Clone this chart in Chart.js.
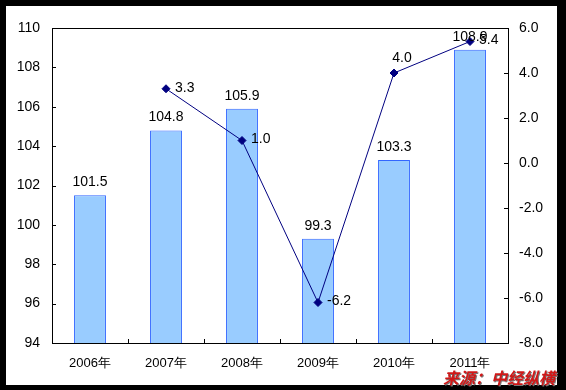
<!DOCTYPE html>
<html>
<head>
<meta charset="utf-8">
<script src="https://cdn.jsdelivr.net/npm/chart.js@4.4.1/dist/chart.umd.min.js"></script>
<style>
  html, body { margin: 0; padding: 0; background: #000; }
  body { width: 566px; height: 390px; position: relative; overflow: hidden; }
  #frame { position: absolute; left: 6px; top: 6px; width: 551px; height: 379px; background: #fff; }
  #source {
    position: absolute; left: 443px; top: 365px;
    font-family: "Noto Sans CJK SC", sans-serif; font-weight: bold; font-style: italic;
    font-size: 16px; color: #d01818; text-shadow: 1px 1px 0 #777; white-space: nowrap;
  }
</style>
</head>
<body>
<div id="frame"><canvas id="chart" width="551" height="379"></canvas></div>
<div id="source">来源：中经纵横</div>
<script>
const years = ['2006年', '2007年', '2008年', '2009年', '2010年', '2011年'];
const indexValues = [101.5, 104.8, 105.9, 99.3, 103.3, 108.9];
const growthValues = [null, 3.3, 1.0, -6.2, 4.0, 5.4];
// where each line label sits relative to its point
const growthLabelSide = ['right', 'right', 'right', 'right', 'above', 'right'];

const FONT = 'Liberation Sans, Arial, sans-serif';

// inward tick marks, plot border and value labels
const decorations = {
  id: 'decorations',
  afterDatasetsDraw(chart) {
    const ctx = chart.ctx;
    const a = chart.chartArea;
    const yl = chart.scales.y, yr = chart.scales.y1, x = chart.scales.x;
    ctx.save();
    ctx.strokeStyle = '#000';
    ctx.lineWidth = 1;
    ctx.beginPath();
    yl.ticks.forEach(t => {
      const py = Math.round(yl.getPixelForValue(t.value)) + 0.5;
      ctx.moveTo(a.left, py); ctx.lineTo(a.left + 4, py);
    });
    yr.ticks.forEach(t => {
      const py = Math.round(yr.getPixelForValue(t.value)) + 0.5;
      ctx.moveTo(a.right, py); ctx.lineTo(a.right - 4, py);
    });
    for (let i = 1; i < years.length; i++) {
      const px = Math.round((x.getPixelForValue(i - 1) + x.getPixelForValue(i)) / 2) + 0.5;
      ctx.moveTo(px, a.bottom); ctx.lineTo(px, a.bottom - 4);
    }
    ctx.stroke();
    ctx.strokeRect(Math.round(a.left) + 0.5, Math.round(a.top) + 0.5,
      Math.round(a.right - a.left), Math.round(a.bottom - a.top));

    ctx.fillStyle = '#000';
    ctx.font = '14px ' + FONT;
    ctx.textAlign = 'center';
    ctx.textBaseline = 'bottom';
    chart.getDatasetMeta(1).data.forEach((bar, i) => {
      ctx.fillText(indexValues[i].toFixed(1), bar.x, bar.y - 6);
    });
    ctx.textBaseline = 'middle';
    chart.getDatasetMeta(0).data.forEach((pt, i) => {
      if (growthValues[i] === null) return;
      const txt = growthValues[i].toFixed(1);
      if (growthLabelSide[i] === 'above') {
        ctx.textAlign = 'center';
        ctx.fillText(txt, pt.x + 8, pt.y - 15);
      } else {
        ctx.textAlign = 'left';
        ctx.fillText(txt, pt.x + 9, pt.y - 1);
      }
    });
    ctx.restore();
  }
};

new Chart(document.getElementById('chart'), {
  data: {
    labels: years,
    datasets: [
      {
        type: 'line',
        data: growthValues,
        yAxisID: 'y1',
        borderColor: '#000080',
        borderWidth: 1,
        pointStyle: 'rectRot',
        pointRadius: 4,
        pointBackgroundColor: '#000080',
        pointBorderColor: '#000080',
        spanGaps: false,
        order: 0
      },
      {
        type: 'bar',
        data: indexValues,
        yAxisID: 'y',
        backgroundColor: '#99ccff',
        borderColor: '#3366ff',
        borderWidth: 1,
        barPercentage: 0.42,
        categoryPercentage: 1,
        order: 1
      }
    ]
  },
  options: {
    responsive: false,
    animation: false,
    devicePixelRatio: 1,
    layout: { padding: { left: 0, right: 0, top: 22, bottom: 0 } },
    plugins: { legend: { display: false }, tooltip: { enabled: false } },
    scales: {
      x: {
        grid: { display: false, drawTicks: false },
        border: { display: false },
        ticks: { color: '#000', font: { family: FONT, size: 13 }, padding: 13, maxRotation: 0 },
        afterFit(s) { s.height = 42; }
      },
      y: {
        position: 'left',
        min: 94, max: 110,
        grid: { display: false, drawTicks: false },
        border: { display: false },
        ticks: { stepSize: 2, color: '#000', font: { family: FONT, size: 14 }, padding: 12 },
        afterFit(s) { s.width = 46; }
      },
      y1: {
        position: 'right',
        min: -8, max: 6,
        grid: { display: false, drawTicks: false },
        border: { display: false },
        ticks: {
          stepSize: 2, color: '#000', font: { family: FONT, size: 14 }, padding: 11,
          callback: v => Number(v).toFixed(1)
        },
        afterFit(s) { s.width = 49; }
      }
    }
  },
  plugins: [decorations]
});
</script>
</body>
</html>
